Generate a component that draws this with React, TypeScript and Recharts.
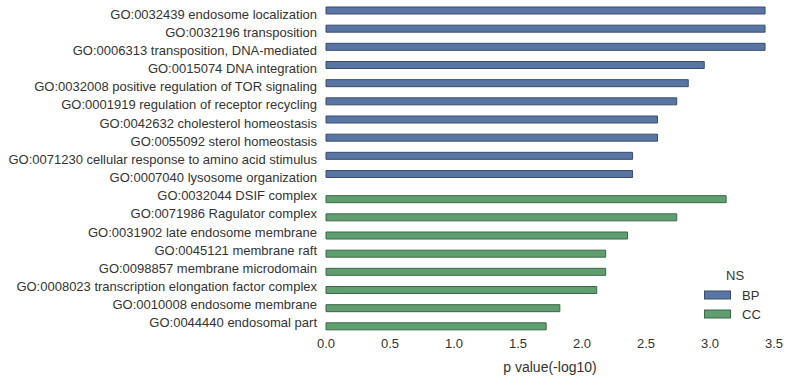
import React from 'react';
import { BarChart, Bar, XAxis, YAxis } from 'recharts';

// GO terms, top to bottom
const terms = [
  'GO:0032439 endosome localization',
  'GO:0032196 transposition',
  'GO:0006313 transposition, DNA-mediated',
  'GO:0015074 DNA integration',
  'GO:0032008 positive regulation of TOR signaling',
  'GO:0001919 regulation of receptor recycling',
  'GO:0042632 cholesterol homeostasis',
  'GO:0055092 sterol homeostasis',
  'GO:0071230 cellular response to amino acid stimulus',
  'GO:0007040 lysosome organization',
  'GO:0032044 DSIF complex',
  'GO:0071986 Ragulator complex',
  'GO:0031902 late endosome membrane',
  'GO:0045121 membrane raft',
  'GO:0098857 membrane microdomain',
  'GO:0008023 transcription elongation factor complex',
  'GO:0010008 endosome membrane',
  'GO:0044440 endosomal part',
];

// -log10 p values, null where the term is in the other namespace
const bpValues = [3.43, 3.43, 3.43, 2.955, 2.83, 2.74, 2.59, 2.59, 2.395, 2.395, null, null, null, null, null, null, null, null];
const ccValues = [null, null, null, null, null, null, null, null, null, null, 3.126, 2.74, 2.356, 2.185, 2.185, 2.115, 1.827, 1.72];

const xTicks = [0, 0.5, 1, 1.5, 2, 2.5, 3, 3.5];
const namespaces = ['BP', 'CC'];

const data = terms.map((term, i) => ({ term, BP: bpValues[i], CC: ccValues[i] }));

const font = '"Liberation Sans", Arial, sans-serif';
const textColor = '#333333';

const fills: Record<string, string> = { BP: '#5975a4', CC: '#5f9e6e' };
const edges: Record<string, string> = { BP: '#3a4c6b', CC: '#3e6748' };

// plain text tick so long labels never wrap
const TermTick = ({ x, y, payload }: any) => (
  <text x={x} y={y} dy="0.35em" textAnchor="end" fontFamily={font} fontSize={13} fill={textColor}>
    {payload.value}
  </text>
);

export default function App() {
  return (
    <div style={{ position: 'absolute', left: 0, top: 0, width: 788, height: 379, background: '#fff' }}>
      <BarChart
        width={788}
        height={379}
        data={data}
        layout="vertical"
        margin={{ top: 5, right: 14, bottom: 0, left: 0 }}
        barSize={7}
        barGap={0}
      >
        <XAxis
          type="number"
          domain={[0, 3.5]}
          ticks={xTicks}
          tickFormatter={(v: number) => v.toFixed(1)}
          axisLine={false}
          tickLine={false}
          tickSize={0}
          tickMargin={7}
          height={47}
          tick={{ fontFamily: font, fontSize: 13, fill: textColor }}
          label={{ value: 'p value(-log10)', position: 'insideBottom', offset: 7, style: { fontFamily: font, fontSize: 14, fill: textColor } }}
        />
        <YAxis
          type="category"
          dataKey="term"
          width={326}
          axisLine={false}
          tickLine={false}
          tickSize={0}
          tickMargin={9}
          interval={0}
          tick={<TermTick />}
        />
        <Bar dataKey="BP" fill={fills.BP} stroke={edges.BP} strokeWidth={1} isAnimationActive={false} />
        <Bar dataKey="CC" fill={fills.CC} stroke={edges.CC} strokeWidth={1} isAnimationActive={false} />
      </BarChart>
      <div style={{ position: 'absolute', left: 690, top: 268, width: 90, fontFamily: font, fontSize: 13, color: textColor }}>
        <div style={{ marginLeft: 36, marginBottom: 3 }}>NS</div>
        {namespaces.map((name) => (
          <div key={name} style={{ display: 'flex', alignItems: 'center', height: 19 }}>
            <svg width={28} height={11} style={{ marginLeft: 14 }}>
              <rect x={0.5} y={1} width={26} height={8} fill={fills[name]} stroke={edges[name]} />
            </svg>
            <span style={{ marginLeft: 10 }}>{name}</span>
          </div>
        ))}
      </div>
    </div>
  );
}
